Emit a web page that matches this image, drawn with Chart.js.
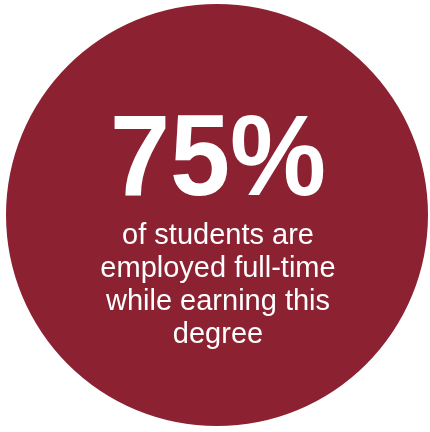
<!DOCTYPE html>
<html>
<head>
<meta charset="utf-8">
<script src="https://cdn.jsdelivr.net/npm/chart.js@4.4.1/dist/chart.umd.min.js"></script>
<style>
  html, body { margin: 0; padding: 0; background: #ffffff; }
  #wrap { position: relative; width: 430px; height: 432px; }
</style>
</head>
<body>
<div id="wrap"><canvas id="c" width="430" height="432"></canvas></div>
<script>
// Data
const categories = ["Employed full-time while earning this degree"];
const circleValues = [100];
const headlineValue = 75;              // percent
const headlineText = headlineValue + "%";
const captionLines = ["of students are", "employed full-time", "while earning this", "degree"];

const circleColor = "#8c2132";

const textPlugin = {
  id: "centerText",
  afterDraw(chart) {
    const ctx = chart.ctx;
    const arc = chart.getDatasetMeta(0).data[0];
    const cx = arc.x + 1;
    ctx.save();
    ctx.fillStyle = "#ffffff";
    ctx.textAlign = "center";
    ctx.textBaseline = "alphabetic";
    // headline, slightly taller than wide as in the reference
    ctx.save();
    ctx.translate(cx, 195);
    ctx.scale(1, 1.07);
    ctx.font = "bold 108px 'Liberation Sans', Arial, sans-serif";
    ctx.fillText(headlineText, 0, 0);
    ctx.restore();
    ctx.font = "29px 'Liberation Sans', Arial, sans-serif";
    const baselines = [244, 277, 310, 343];
    captionLines.forEach((line, i) => ctx.fillText(line, cx, baselines[i]));
    ctx.restore();
  }
};

new Chart(document.getElementById("c"), {
  type: "pie",
  data: {
    labels: categories,
    datasets: [{
      data: circleValues,
      backgroundColor: [circleColor],
      borderWidth: 0,
      hoverOffset: 0
    }]
  },
  options: {
    responsive: false,
    animation: false,
    devicePixelRatio: 1,
    layout: { padding: { left: 6, right: 2, top: 4, bottom: 6 } },
    plugins: {
      legend: { display: false },
      tooltip: { enabled: false },
      title: { display: false }
    },
    events: []
  },
  plugins: [textPlugin]
});
</script>
</body>
</html>
